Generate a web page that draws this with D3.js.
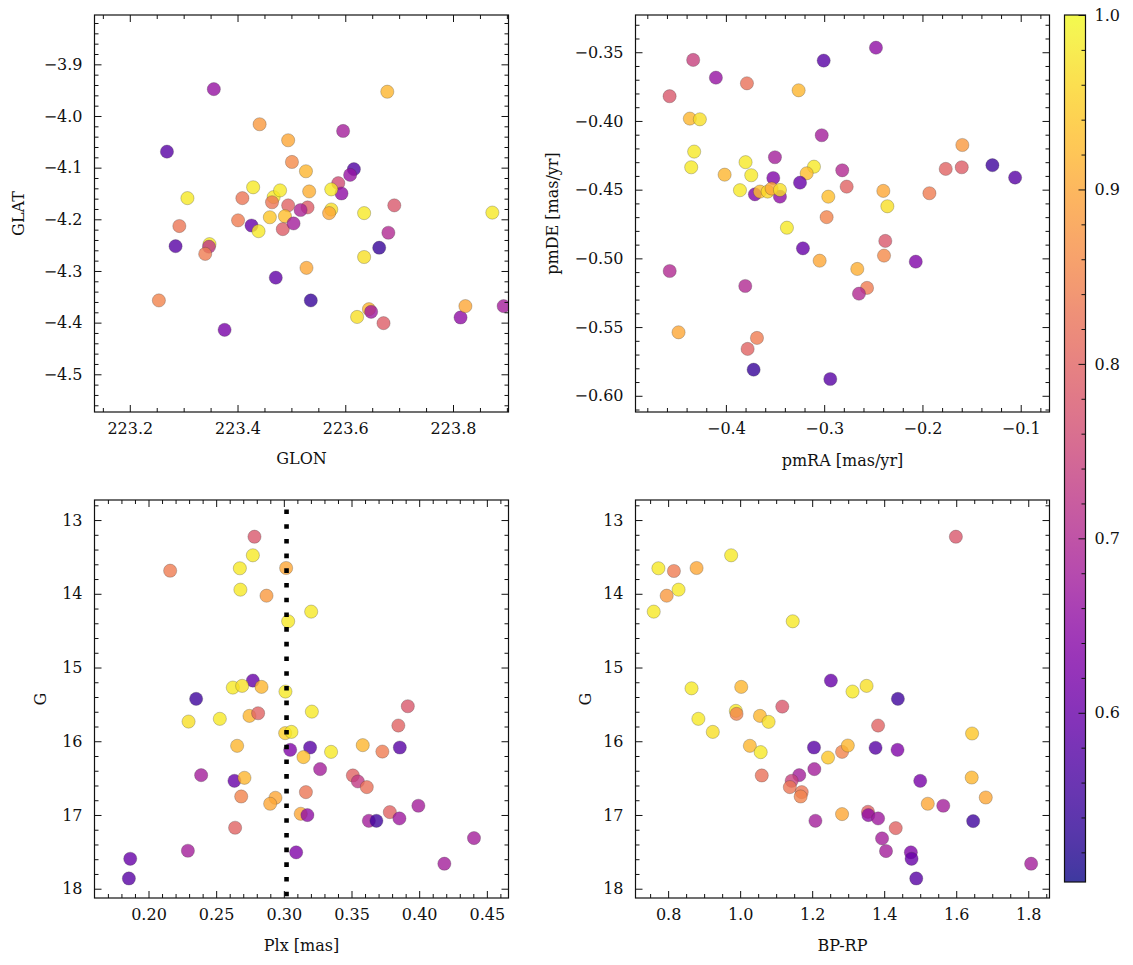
<!DOCTYPE html>
<html><head><meta charset="utf-8">
<script src="https://cdn.jsdelivr.net/npm/d3@7"></script>
<style>body{margin:0;background:#fff} text{font-family:"DejaVu Serif",serif;fill:#111}</style>
</head><body><svg id="c" width="1133" height="965"></svg>
<script>
// ---------- data ----------
const glon = [223.356,223.678,223.441,223.596,223.269,223.494,223.501,223.527,223.616,223.609,223.587,223.593,223.574,223.533,223.429,223.307,223.409,223.467,223.479,223.464,223.494,223.530,223.517,223.691,223.635,223.873,223.574,223.570,223.292,223.401,223.426,223.439,223.460,223.488,223.484,223.504,223.285,223.348,223.347,223.340,223.635,223.663,223.680,223.528,223.471,223.536,223.254,223.376,223.622,223.644,223.648,223.671,223.814,223.823,223.894];
const glat = [-3.948,-3.953,-4.016,-4.029,-4.069,-4.047,-4.089,-4.107,-4.103,-4.114,-4.130,-4.150,-4.142,-4.146,-4.138,-4.159,-4.159,-4.157,-4.144,-4.167,-4.173,-4.177,-4.182,-4.173,-4.188,-4.187,-4.181,-4.188,-4.213,-4.202,-4.212,-4.223,-4.196,-4.194,-4.219,-4.208,-4.252,-4.248,-4.253,-4.267,-4.273,-4.255,-4.226,-4.294,-4.313,-4.357,-4.357,-4.414,-4.389,-4.374,-4.379,-4.401,-4.390,-4.368,-4.368];
const probPos = [0.66,0.92,0.88,0.68,0.58,0.90,0.86,0.92,0.57,0.66,0.76,0.65,0.98,0.91,0.98,0.98,0.83,0.98,0.98,0.83,0.80,0.79,0.69,0.78,0.98,0.98,0.97,0.90,0.83,0.84,0.60,0.98,0.94,0.93,0.79,0.68,0.58,0.98,0.72,0.84,0.97,0.54,0.70,0.90,0.59,0.54,0.85,0.62,0.97,0.92,0.67,0.79,0.65,0.90,0.68];

const pmra = [-0.2473,-0.3005,-0.4333,-0.4102,-0.3786,-0.4573,-0.3260,-0.4367,-0.4265,-0.3025,-0.1594,-0.4323,-0.4353,-0.3501,-0.3800,-0.4013,-0.3742,-0.3104,-0.3178,-0.2816,-0.3518,-0.3246,-0.2771,-0.1763,-0.1600,-0.1288,-0.1057,-0.1929,-0.2398,-0.2357,-0.2958,-0.3857,-0.3705,-0.3450,-0.3654,-0.3575,-0.3535,-0.3450,-0.2975,-0.3379,-0.3216,-0.3046,-0.2378,-0.2391,-0.2068,-0.2663,-0.2564,-0.2646,-0.4572,-0.3803,-0.4482,-0.3684,-0.3779,-0.3718,-0.2938];
const pmde = [-0.3467,-0.3561,-0.3556,-0.3685,-0.3726,-0.3820,-0.3777,-0.3983,-0.3988,-0.4104,-0.4175,-0.4223,-0.4337,-0.4264,-0.4300,-0.4391,-0.4395,-0.4333,-0.4381,-0.4359,-0.4415,-0.4449,-0.4478,-0.4349,-0.4337,-0.4322,-0.4412,-0.4526,-0.4509,-0.4621,-0.4551,-0.4504,-0.4534,-0.4551,-0.4514,-0.4514,-0.4492,-0.4502,-0.4700,-0.4777,-0.4927,-0.5017,-0.4873,-0.4980,-0.5024,-0.5077,-0.5215,-0.5257,-0.5092,-0.5201,-0.5538,-0.5579,-0.5659,-0.5810,-0.5878];
const probPm = [0.65,0.58,0.74,0.66,0.82,0.78,0.92,0.92,0.97,0.68,0.88,0.98,0.98,0.68,0.98,0.92,0.98,0.98,0.93,0.70,0.63,0.60,0.80,0.80,0.79,0.55,0.58,0.84,0.90,0.97,0.93,0.98,0.63,0.65,0.93,0.96,0.90,0.97,0.85,0.98,0.60,0.90,0.78,0.86,0.63,0.91,0.84,0.70,0.70,0.70,0.90,0.84,0.80,0.54,0.58];

const plx = [0.2783,0.2771,0.2675,0.2160,0.3017,0.2679,0.2872,0.3202,0.3032,0.2771,0.2623,0.2692,0.2835,0.3012,0.2352,0.3916,0.2296,0.2527,0.2746,0.2810,0.3207,0.3846,0.3010,0.3056,0.2655,0.3047,0.3194,0.3349,0.3145,0.3583,0.3728,0.3857,0.3268,0.2389,0.2635,0.2709,0.3510,0.3547,0.3613,0.3163,0.2685,0.2938,0.2899,0.3994,0.3125,0.3174,0.3783,0.3628,0.3684,0.3854,0.2640,0.4405,0.2291,0.3091,0.4186,0.1865,0.1855];
const gPlx = [13.226,13.478,13.654,13.687,13.650,13.944,14.026,14.242,14.373,15.177,15.272,15.249,15.263,15.326,15.425,15.525,15.733,15.696,15.656,15.620,15.598,15.787,15.890,15.873,16.062,16.117,16.085,16.144,16.215,16.053,16.140,16.085,16.378,16.460,16.537,16.496,16.464,16.545,16.622,16.690,16.749,16.767,16.848,16.875,16.984,17.001,16.961,17.079,17.079,17.047,17.173,17.313,17.485,17.507,17.661,17.594,17.861];
const probPlx = [0.78,0.98,0.98,0.84,0.90,0.98,0.88,0.98,0.98,0.60,0.98,0.97,0.92,0.98,0.55,0.78,0.97,0.98,0.92,0.80,0.98,0.80,0.95,0.98,0.92,0.63,0.58,0.98,0.93,0.92,0.84,0.58,0.68,0.68,0.60,0.92,0.80,0.73,0.82,0.83,0.85,0.90,0.90,0.68,0.90,0.65,0.80,0.68,0.55,0.67,0.80,0.68,0.68,0.63,0.68,0.60,0.58];

const bprp = [1.599,0.975,0.773,0.816,0.879,0.829,0.796,0.760,1.146,1.252,0.865,1.003,1.312,1.351,1.438,1.117,0.884,0.988,0.990,1.055,1.079,0.924,1.027,1.057,1.060,1.205,1.244,1.283,1.299,1.383,1.376,1.437,1.644,1.206,1.164,1.143,1.138,1.171,1.168,1.500,1.643,1.521,1.564,1.682,1.209,1.283,1.355,1.356,1.383,1.647,1.432,1.394,1.405,1.474,1.476,1.489,1.808];
const gCmd = [13.226,13.478,13.654,13.691,13.650,13.944,14.026,14.242,14.373,15.177,15.282,15.263,15.326,15.249,15.425,15.530,15.696,15.588,15.629,15.656,15.737,15.873,16.062,16.148,16.464,16.085,16.221,16.144,16.058,15.787,16.089,16.117,15.895,16.378,16.460,16.537,16.622,16.690,16.749,16.537,16.492,16.848,16.875,16.763,17.079,16.988,16.957,17.001,17.047,17.083,17.178,17.318,17.489,17.507,17.594,17.861,17.661];
const probCmd = [0.78,0.98,0.98,0.84,0.90,0.98,0.88,0.98,0.98,0.60,0.98,0.92,0.98,0.97,0.55,0.78,0.98,0.98,0.85,0.92,0.97,0.97,0.92,0.98,0.82,0.58,0.94,0.85,0.92,0.80,0.58,0.63,0.94,0.68,0.68,0.74,0.83,0.83,0.85,0.62,0.92,0.90,0.68,0.90,0.68,0.90,0.80,0.65,0.67,0.55,0.80,0.68,0.68,0.63,0.60,0.58,0.68];

const glonTicks = [223.2, 223.4, 223.6, 223.8];
const glatTicks = [-3.9, -4.0, -4.1, -4.2, -4.3, -4.4, -4.5];
const pmraTicks = [-0.4, -0.3, -0.2, -0.1];
const pmdeTicks = [-0.35, -0.40, -0.45, -0.50, -0.55, -0.60];
const plxTicks = [0.20, 0.25, 0.30, 0.35, 0.40, 0.45];
const gTicks = [13, 14, 15, 16, 17, 18];
const bprpTicks = [0.8, 1.0, 1.2, 1.4, 1.6, 1.8];
const cbarTicks = [0.6, 0.7, 0.8, 0.9, 1.0];
const plxRef = 0.302;
const probRange = [0.503, 1.0];

// ---------- drawing ----------
const svg = d3.select('#c');
const color = d3.scaleSequential(d3.interpolatePlasma).domain(probRange);
const FS = 16;
const minors = (dom, step) => {
  const lo = Math.min(...dom), hi = Math.max(...dom);
  return d3.range(Math.ceil(lo/step - 1e-9), Math.floor(hi/step + 1e-9) + 1).map(k => +(k*step).toFixed(6));
};

function panel(cfg, idx) {
  const g = svg.append('g');
  const x = d3.scaleLinear().domain(cfg.xDomain).range([cfg.left, cfg.right]);
  const y = d3.scaleLinear().domain(cfg.yDomain).range([cfg.top, cfg.bottom]);
  const cid = 'clip' + idx;
  svg.append('clipPath').attr('id', cid).append('rect')
    .attr('x', cfg.left).attr('y', cfg.top).attr('width', cfg.right - cfg.left).attr('height', cfg.bottom - cfg.top);
  const pg = g.append('g').attr('clip-path', `url(#${cid})`);
  const pts = cfg.xs.map((v, i) => ({x: v, y: cfg.ys[i], p: cfg.ps[i]}));
  pg.selectAll('circle').data(pts).join('circle')
    .attr('cx', d => x(d.x)).attr('cy', d => y(d.y)).attr('r', 6.6)
    .attr('fill', d => color(d.p)).attr('fill-opacity', 0.8)
    .attr('stroke', '#3a3a3a').attr('stroke-opacity', 0.55).attr('stroke-width', 0.5);
  if (cfg.vline !== undefined) {
    pg.append('line').attr('x1', x(cfg.vline)).attr('x2', x(cfg.vline))
      .attr('y1', cfg.top + 9.5).attr('y2', cfg.bottom)
      .attr('stroke', '#000').attr('stroke-width', 4.6).attr('stroke-dasharray', '4.6,10.1');
  }
  const xMin = minors(cfg.xDomain, cfg.xMinor).filter(v => !cfg.xTicks.some(t => Math.abs(t - v) < 1e-6));
  const yMin = minors(cfg.yDomain, cfg.yMinor).filter(v => !cfg.yTicks.some(t => Math.abs(t - v) < 1e-6));
  const style = a => { a.select('.domain').remove(); a.selectAll('line').attr('stroke', '#111').attr('stroke-width', 1); a.selectAll('text').attr('font-size', FS).attr('font-family', '"DejaVu Serif", serif').attr('fill', '#111'); };
  const M = 7, m = 4;
  const ax = (gen, tr) => g.append('g').attr('transform', tr).call(gen).call(style);
  ax(d3.axisBottom(x).tickValues(cfg.xTicks).tickSize(-M).tickPadding(11).tickFormat(cfg.xFmt), `translate(0,${cfg.bottom})`);
  ax(d3.axisBottom(x).tickValues(xMin).tickSize(-m).tickFormat(''), `translate(0,${cfg.bottom})`);
  ax(d3.axisTop(x).tickValues(cfg.xTicks).tickSize(-M).tickFormat(''), `translate(0,${cfg.top})`);
  ax(d3.axisTop(x).tickValues(xMin).tickSize(-m).tickFormat(''), `translate(0,${cfg.top})`);
  ax(d3.axisLeft(y).tickValues(cfg.yTicks).tickSize(-M).tickPadding(12).tickFormat(cfg.yFmt), `translate(${cfg.left},0)`);
  ax(d3.axisLeft(y).tickValues(yMin).tickSize(-m).tickFormat(''), `translate(${cfg.left},0)`);
  ax(d3.axisRight(y).tickValues(cfg.yTicks).tickSize(-M).tickFormat(''), `translate(${cfg.right},0)`);
  ax(d3.axisRight(y).tickValues(yMin).tickSize(-m).tickFormat(''), `translate(${cfg.right},0)`);
  g.append('rect').attr('x', cfg.left).attr('y', cfg.top).attr('width', cfg.right - cfg.left).attr('height', cfg.bottom - cfg.top)
    .attr('fill', 'none').attr('stroke', '#111').attr('stroke-width', 1.2);
  g.append('text').attr('x', (cfg.left + cfg.right) / 2).attr('y', cfg.xLabelY).attr('text-anchor', 'middle')
    .attr('font-size', FS).text(cfg.xLabel);
  g.append('text').attr('transform', `translate(${cfg.yLabelX},${(cfg.top + cfg.bottom) / 2}) rotate(-90)`)
    .attr('text-anchor', 'middle').attr('font-size', FS).text(cfg.yLabel);
}

const L1 = 94.5, R1 = 508.5, L2 = 635.5, R2 = 1049.5, T1 = 15, B1 = 412, T2 = 500, B2 = 898;
const f1 = d3.format('.1f'), f2 = d3.format('.2f'), f0 = d3.format('d');

panel({left: L1, right: R1, top: T1, bottom: B1, xDomain: [223.1345, 223.903], yDomain: [-3.8045, -4.573],
  xs: glon, ys: glat, ps: probPos, xTicks: glonTicks, yTicks: glatTicks, xMinor: 0.05, yMinor: 0.02,
  xFmt: f1, yFmt: f1, xLabel: 'GLON', yLabel: 'GLAT', xLabelY: 464, yLabelX: 24}, 0);
panel({left: L2, right: R2, top: T1, bottom: B1, xDomain: [-0.492, -0.0707], yDomain: [-0.3229, -0.6118],
  xs: pmra, ys: pmde, ps: probPm, xTicks: pmraTicks, yTicks: pmdeTicks, xMinor: 0.02, yMinor: 0.01,
  xFmt: f1, yFmt: f2, xLabel: 'pmRA [mas/yr]', yLabel: 'pmDE [mas/yr]', xLabelY: 466, yLabelX: 558}, 1);
panel({left: L1, right: R1, top: T2, bottom: B2, xDomain: [0.1601, 0.466], yDomain: [12.728, 18.126],
  xs: plx, ys: gPlx, ps: probPlx, xTicks: plxTicks, yTicks: gTicks, xMinor: 0.01, yMinor: 0.2,
  xFmt: f2, yFmt: f0, xLabel: 'Plx [mas]', yLabel: 'G', xLabelY: 951, yLabelX: 46, vline: plxRef}, 2);
panel({left: L2, right: R2, top: T2, bottom: B2, xDomain: [0.7094, 1.859], yDomain: [12.728, 18.126],
  xs: bprp, ys: gCmd, ps: probCmd, xTicks: bprpTicks, yTicks: gTicks, xMinor: 0.05, yMinor: 0.2,
  xFmt: f1, yFmt: f0, xLabel: 'BP-RP', yLabel: 'G', xLabelY: 951, yLabelX: 591}, 3);

// colorbar
const cbL = 1064.5, cbR = 1085.5, cbT = 15, cbB = 882;
const cy = d3.scaleLinear().domain(probRange).range([cbB, cbT]);
const grad = svg.append('defs').append('linearGradient').attr('id', 'cbg').attr('x1', 0).attr('x2', 0).attr('y1', 1).attr('y2', 0);
d3.range(0, 1.0001, 0.02).forEach(t => grad.append('stop').attr('offset', t).attr('stop-color', d3.interpolatePlasma(t)));
svg.append('rect').attr('x', cbL).attr('y', cbT).attr('width', cbR - cbL).attr('height', cbB - cbT)
  .attr('fill', 'url(#cbg)').attr('fill-opacity', 0.8);
const cbMin = minors(probRange, 0.02).filter(v => !cbarTicks.some(t => Math.abs(t - v) < 1e-6));
const cbStyle = a => { a.select('.domain').remove(); a.selectAll('line').attr('stroke', '#111').attr('stroke-width', 1); a.selectAll('text').attr('font-size', FS).attr('font-family', '"DejaVu Serif", serif').attr('fill', '#111'); };
svg.append('g').attr('transform', `translate(${cbR},0)`).call(d3.axisRight(cy).tickValues(cbarTicks).tickSize(-7).tickPadding(9).tickFormat(f1)).call(cbStyle);
svg.append('g').attr('transform', `translate(${cbR},0)`).call(d3.axisRight(cy).tickValues(cbMin).tickSize(-4).tickFormat('')).call(cbStyle);
svg.append('rect').attr('x', cbL).attr('y', cbT).attr('width', cbR - cbL).attr('height', cbB - cbT)
  .attr('fill', 'none').attr('stroke', '#111').attr('stroke-width', 1.2);
</script></body></html>
